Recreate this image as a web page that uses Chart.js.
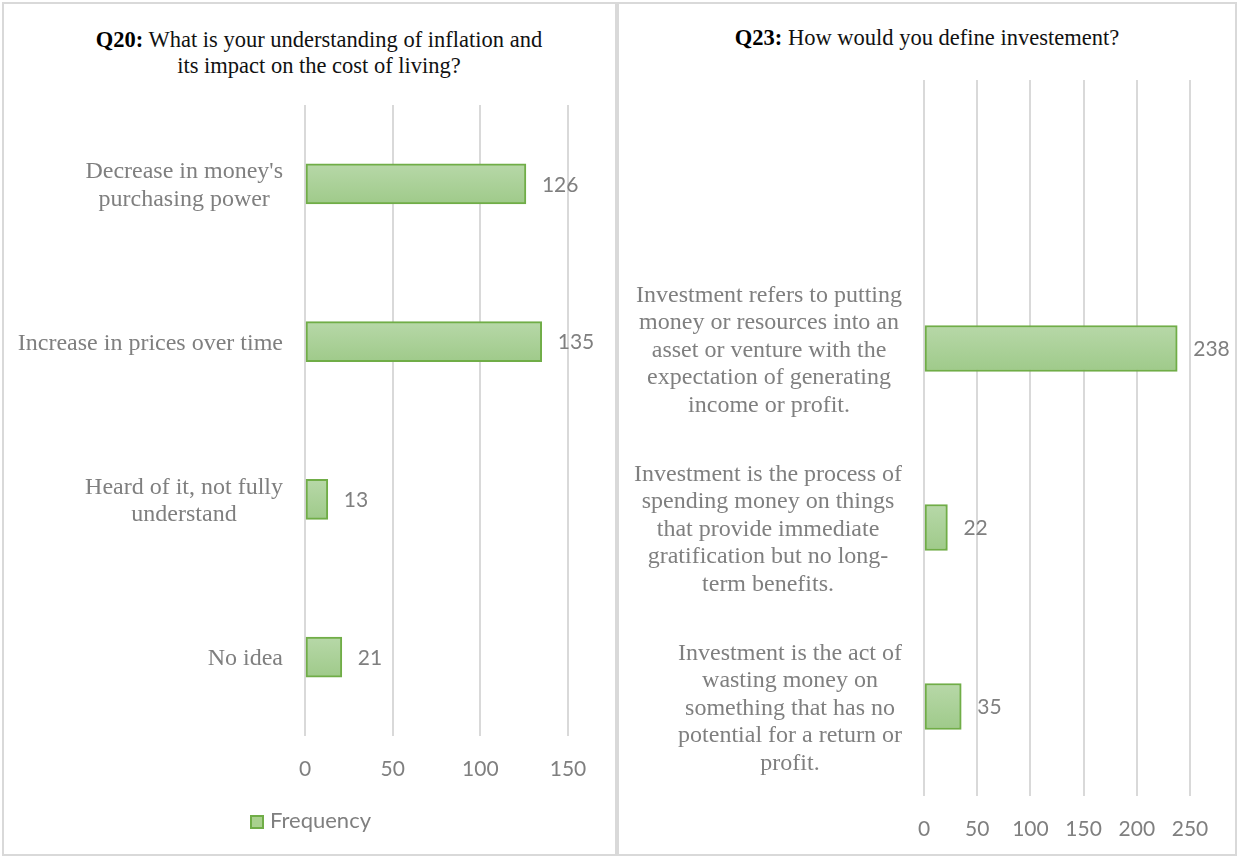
<!DOCTYPE html>
<html>
<head>
<meta charset="utf-8">
<script src="https://cdn.jsdelivr.net/npm/chart.js@4.4.0/dist/chart.umd.min.js"></script>
<style>
  body { margin: 0; width: 1239px; height: 859px; position: relative; background: #fff; overflow: hidden; }
  .panel { position: absolute; top: 2px; height: 854px; border: 2px solid #d9d9d9; box-sizing: border-box; }
  .title { position: absolute; width: 600px; text-align: center; font-family: "Liberation Serif", "Times New Roman", serif;
           font-size: 22.5px; line-height: 26px; color: #111; }
  .title b { color: #000; }
  canvas { position: absolute; top: 0; }
  .legend { position: absolute; left: 250px; top: 807px; font-family: Lato, sans-serif; font-size: 22px; color: #7f7f7f; line-height: 26px; }
  .legend span { display: inline-block; width: 10px; height: 10px; border: 2px solid #70ad47; background: #a9d18e; margin-right: 6px; vertical-align: -1px; }
</style>
</head>
<body>
<div class="panel" style="left:2px; width:615px;"></div>
<div class="panel" style="left:617px; width:620px;"></div>

<div class="title" style="left:19px; top:27px;"><b>Q20:</b> What is your understanding of inflation and<br>its impact on the cost of living?</div>
<div class="title" style="left:627px; top:25px;"><b>Q23:</b> How would you define investement?</div>

<canvas id="q20" width="617" height="859" style="left:0;"></canvas>
<canvas id="q23" width="622" height="859" style="left:617px;"></canvas>

<div class="legend"><span></span>Frequency</div>

<script>
// Q20 - inflation understanding
const q20Labels = [
  ["Decrease in money's", "purchasing power"],
  ["Increase in prices over time"],
  ["Heard of it, not fully", "understand"],
  ["No idea"]
];
const q20Values = [126, 135, 13, 21];
const q20Ticks = [0, 50, 100, 150];

// Q23 - investment definition (top slot is empty in the original)
const q23Labels = [
  [""],
  ["Investment refers to putting", "money or resources into an", "asset or venture with the", "expectation of generating", "income or profit."],
  ["Investment is the process of", "spending money on things", "that provide immediate", "gratification but no long-", "term benefits."],
  ["Investment is the act of", "wasting money on", "something that has no", "potential for a return or", "profit."]
];
const q23Values = [null, 238, 22, 35];
const q23Ticks = [0, 50, 100, 150, 200, 250];

const grey = '#7f7f7f';

// draws the centered multi-line category labels and the value labels
const labelPlugin = {
  id: 'labels',
  afterDraw(chart) {
    const ctx = chart.ctx;
    const ys = chart.scales.y;
    const left = chart.chartArea.left;
    ctx.save();
    ctx.fillStyle = grey;
    ctx.textBaseline = 'middle';
    ctx.textAlign = 'center';
    ctx.font = '24px "Liberation Serif"';
    chart.data.labels.forEach((lines, i) => {
      const w = Math.max(...lines.map(l => ctx.measureText(l).width));
      const cx = left - 22 - w / 2;
      const cy = ys.getPixelForValue(i) + 2;
      lines.forEach((l, j) => ctx.fillText(l, cx, cy + (j - (lines.length - 1) / 2) * 27.4));
    });
    ctx.textAlign = 'left';
    ctx.font = '21px Lato';
    const vals = chart.data.datasets[0].data;
    chart.getDatasetMeta(0).data.forEach((bar, i) => {
      if (vals[i] == null) return;
      ctx.fillText(String(vals[i]), bar.x + 16, bar.y + 1);
    });
    ctx.restore();
  }
};

function makeChart(id, labels, values, ticks, pad, thickness) {
  const step = ticks[1] - ticks[0];
  return new Chart(document.getElementById(id), {
    type: 'bar',
    data: {
      labels: labels,
      datasets: [{
        label: 'Frequency',
        data: values,
        barThickness: thickness,
        borderWidth: 2,
        borderSkipped: false,
        borderColor: '#70ad47',
        backgroundColor: (c) => {
          const ys = c.chart.scales.y;
          if (!ys || !c.chart.chartArea) return '#aacf96';
          const cy = ys.getPixelForValue(c.dataIndex);
          const g = c.chart.ctx.createLinearGradient(0, cy - thickness / 2, 0, cy + thickness / 2);
          g.addColorStop(0, '#b7d8a8');
          g.addColorStop(1, '#9fca8a');
          return g;
        }
      }]
    },
    options: {
      indexAxis: 'y',
      responsive: false,
      animation: false,
      layout: { padding: { left: 0, right: pad.right, top: pad.top, bottom: 0 } },
      plugins: { legend: { display: false }, tooltip: { enabled: false } },
      scales: {
        x: {
          min: ticks[0],
          max: ticks[ticks.length - 1],
          ticks: { stepSize: step, color: grey, font: { family: 'Lato', size: 21 }, padding: 21 },
          grid: { color: '#d9d9d9', lineWidth: 2, drawTicks: false },
          border: { display: false },
          afterFit: (s) => { s.height = pad.xh; }
        },
        y: {
          ticks: { display: false },
          grid: { display: false },
          border: { display: false },
          afterFit: (s) => { s.width = pad.left; }
        }
      }
    },
    plugins: [labelPlugin]
  });
}

makeChart('q20', q20Labels, q20Values, q20Ticks, { left: 305, right: 49, top: 105, xh: 123 }, 40);
makeChart('q23', q23Labels, q23Values, q23Ticks, { left: 307, right: 49, top: 80, xh: 63 }, 46);
</script>
</body>
</html>
